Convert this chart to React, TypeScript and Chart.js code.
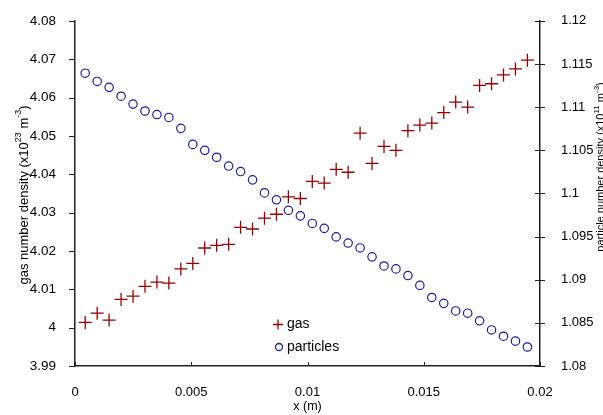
import React, { useEffect, useRef } from 'react';
import { Chart, registerables } from 'chart.js';

Chart.register(...registerables);

const xValues = [
  0.00044, 0.000954, 0.001468, 0.001982, 0.002496, 0.00301, 0.003524, 0.004038,
  0.004552, 0.005066, 0.00558, 0.006094, 0.006608, 0.007122, 0.007636, 0.00815,
  0.008664, 0.009178, 0.009692, 0.010206, 0.01072, 0.011234, 0.011748, 0.012262,
  0.012776, 0.01329, 0.013804, 0.014318, 0.014832, 0.015346, 0.01586, 0.016374,
  0.016888, 0.017402, 0.017916, 0.01843, 0.018944, 0.019458,
];

const gasValues = [
  4.00136, 4.00377, 4.00197, 4.00736, 4.00821, 4.01077, 4.01187, 4.01162,
  4.01531, 4.01674, 4.02077, 4.02146, 4.02172, 4.02615, 4.02572, 4.02854,
  4.02956, 4.0341, 4.03367, 4.03813, 4.03769, 4.04128, 4.04051, 4.05069,
  4.04282, 4.04726, 4.04623, 4.05136, 4.05282, 4.05333, 4.05608, 4.0588,
  4.05751, 4.06315, 4.06359, 4.0659, 4.06744, 4.06974,
];

const particleValues = [
  1.11393, 1.11297, 1.11229, 1.11126, 1.11035, 1.10955, 1.10914, 1.1088,
  1.10754, 1.10568, 1.10499, 1.10419, 1.10317, 1.10253, 1.10157, 1.10006,
  1.09926, 1.09804, 1.0974, 1.09652, 1.09595, 1.09496, 1.09425, 1.09368,
  1.09265, 1.09159, 1.09125, 1.09048, 1.08934, 1.08794, 1.08726, 1.08638,
  1.08612, 1.08524, 1.08418, 1.08345, 1.08288, 1.0822,
];

const xTicks = [0, 0.005, 0.01, 0.015, 0.02];
const gasTicks = [3.99, 4.0, 4.01, 4.02, 4.03, 4.04, 4.05, 4.06, 4.07, 4.08];
const particleTicks = [1.08, 1.085, 1.09, 1.095, 1.1, 1.105, 1.11, 1.115, 1.12];

const seriesNames = ['gas', 'particles'];
const GAS_COLOR = '#990000';
const PART_COLOR = '#1c1ca6';
const AXIS_COLOR = '#222222';
const FONT = '"Liberation Sans", Arial, sans-serif';

type Seg = { t: string; sup?: boolean };

const leftTitle: Seg[] = [
  { t: 'gas number density (x10' },
  { t: '23', sup: true },
  { t: ' m' },
  { t: '-3', sup: true },
  { t: ')' },
];
const rightTitle: Seg[] = [
  { t: 'particle number density (x10' },
  { t: '11', sup: true },
  { t: ' m' },
  { t: '-3', sup: true },
  { t: ')' },
];

function drawRich(ctx: CanvasRenderingContext2D, segs: Seg[], size: number) {
  const supSize = Math.round(size * 0.7);
  let total = 0;
  const widths: number[] = [];
  segs.forEach((s) => {
    ctx.font = `${s.sup ? supSize : size}px ${FONT}`;
    const w = ctx.measureText(s.t).width;
    widths.push(w);
    total += w;
  });
  let x = -total / 2;
  segs.forEach((s, i) => {
    ctx.font = `${s.sup ? supSize : size}px ${FONT}`;
    ctx.fillText(s.t, x, s.sup ? -size * 0.42 : 0);
    x += widths[i];
  });
}

const fmt = (v: number) => String(Number(v.toFixed(4)));

const decorPlugin = {
  id: 'decor',
  afterDraw(chart: any) {
    const ctx: CanvasRenderingContext2D = chart.ctx;
    const { left, right, bottom } = chart.chartArea;
    const xs = chart.scales.x;
    const ys = chart.scales.y;
    const y1 = chart.scales.y1;
    ctx.save();
    // ticks
    ctx.strokeStyle = AXIS_COLOR;
    ctx.lineWidth = 1;
    ctx.beginPath();
    gasTicks.forEach((v) => {
      const p = Math.round(ys.getPixelForValue(v)) + 0.5;
      ctx.moveTo(left - 6, p);
      ctx.lineTo(left, p);
    });
    particleTicks.forEach((v) => {
      const p = Math.round(y1.getPixelForValue(v)) + 0.5;
      ctx.moveTo(right - 5, p);
      ctx.lineTo(right + 5, p);
    });
    xTicks.forEach((v) => {
      const p = Math.round(xs.getPixelForValue(v)) + 0.5;
      ctx.moveTo(p, bottom);
      ctx.lineTo(p, bottom - 4);
    });
    ctx.stroke();

    // axis titles
    ctx.fillStyle = '#000';
    ctx.textBaseline = 'middle';
    ctx.textAlign = 'left';
    ctx.save();
    ctx.translate(24, 195);
    ctx.rotate(-Math.PI / 2);
    drawRich(ctx, leftTitle, 13);
    ctx.restore();

    ctx.save();
    ctx.translate(601, 167);
    ctx.rotate(-Math.PI / 2);
    drawRich(ctx, rightTitle, 11);
    ctx.restore();

    ctx.textAlign = 'center';
    ctx.font = `12.5px ${FONT}`;
    ctx.fillText('x (m)', (left + right) / 2, 407);

    // legend
    ctx.textAlign = 'left';
    ctx.font = `14px ${FONT}`;
    ctx.strokeStyle = GAS_COLOR;
    ctx.lineWidth = 1.3;
    ctx.beginPath();
    ctx.moveTo(273, 324.5);
    ctx.lineTo(283, 324.5);
    ctx.moveTo(278, 319.5);
    ctx.lineTo(278, 329.5);
    ctx.stroke();
    ctx.strokeStyle = PART_COLOR;
    ctx.beginPath();
    ctx.arc(279, 347, 3.5, 0, Math.PI * 2);
    ctx.stroke();
    ctx.fillStyle = '#000';
    ctx.fillText(seriesNames[0], 287, 324);
    ctx.fillText(seriesNames[1], 287, 347);
    ctx.restore();
  },
};

export default function App() {
  const ref = useRef<HTMLCanvasElement | null>(null);

  useEffect(() => {
    if (!ref.current) return;
    const chart = new Chart(ref.current, {
      type: 'scatter',
      data: {
        datasets: [
          {
            label: seriesNames[0],
            data: xValues.map((x, i) => ({ x, y: gasValues[i] })),
            yAxisID: 'y',
            pointStyle: 'cross',
            pointRadius: 6.5,
            pointBorderWidth: 1.3,
            borderColor: GAS_COLOR,
            backgroundColor: GAS_COLOR,
            showLine: false,
          },
          {
            label: seriesNames[1],
            data: xValues.map((x, i) => ({ x, y: particleValues[i] })),
            yAxisID: 'y1',
            pointStyle: 'circle',
            pointRadius: 4.2,
            pointBorderWidth: 1.2,
            borderColor: PART_COLOR,
            backgroundColor: 'rgba(0,0,0,0)',
            showLine: false,
          },
        ],
      },
      options: {
        responsive: false,
        animation: false,
        layout: { padding: { top: 15, left: 0, right: 0, bottom: 0 } },
        plugins: {
          legend: { display: false },
          tooltip: { enabled: false },
        },
        scales: {
          x: {
            type: 'linear',
            position: 'bottom',
            min: 0,
            max: 0.02,
            afterBuildTicks: (s: any) => {
              s.ticks = xTicks.map((value) => ({ value }));
            },
            afterFit: (s: any) => {
              s.height = 49;
            },
            grid: { display: false },
            border: { display: true, color: AXIS_COLOR, width: 1.5 },
            ticks: {
              color: '#000',
              font: { family: FONT, size: 13 },
              padding: 11,
              maxRotation: 0,
              autoSkip: false,
              callback: (v: any) => fmt(Number(v)),
            },
          },
          y: {
            type: 'linear',
            position: 'left',
            min: 3.99,
            max: 4.08,
            afterBuildTicks: (s: any) => {
              s.ticks = gasTicks.map((value) => ({ value }));
            },
            afterFit: (s: any) => {
              s.width = 75;
            },
            grid: { display: false },
            border: { display: true, color: AXIS_COLOR, width: 1.5 },
            ticks: {
              color: '#000',
              font: { family: FONT, size: 13.5 },
              padding: 11,
              autoSkip: false,
              callback: (v: any) => fmt(Number(v)),
            },
          },
          y1: {
            type: 'linear',
            position: 'right',
            min: 1.08,
            max: 1.12,
            afterBuildTicks: (s: any) => {
              s.ticks = particleTicks.map((value) => ({ value }));
            },
            afterFit: (s: any) => {
              s.width = 63;
            },
            grid: { display: false },
            border: { display: true, color: AXIS_COLOR, width: 1.5 },
            ticks: {
              color: '#000',
              font: { family: FONT, size: 13 },
              padding: 13,
              autoSkip: false,
              callback: (v: any) => fmt(Number(v)),
            },
          },
        },
      },
      plugins: [decorPlugin],
    });
    return () => chart.destroy();
  }, []);

  return (
    <div style={{ position: 'absolute', left: 0, top: 0, width: 603, height: 415, background: '#fff' }}>
      <canvas ref={ref} width={603} height={415} style={{ display: 'block' }} />
    </div>
  );
}
